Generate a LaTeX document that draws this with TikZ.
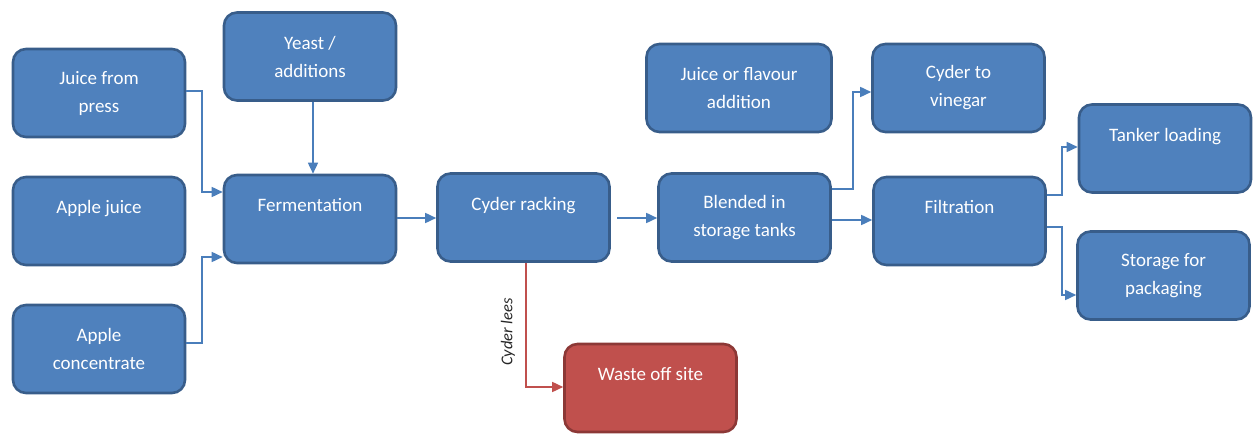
\documentclass[tikz,border=0pt]{standalone}
\usepackage{fontspec}
\setmainfont{Carlito}
\usetikzlibrary{arrows.meta}
\definecolor{boxfill}{HTML}{4F81BD}
\definecolor{boxline}{HTML}{385D8A}
\definecolor{wastefill}{HTML}{C0504D}
\definecolor{wasteline}{HTML}{8C3836}
\definecolor{flowline}{HTML}{4A7EBB}
\tikzset{
  stage/.style={draw=boxline, fill=boxfill, line width=2.6pt, rounded corners=13pt,
    text=white, align=center, font=\fontsize{19}{28}\selectfont,
    minimum width=172pt, minimum height=88pt, inner sep=0pt},
  wastebox/.style={stage, draw=wasteline, fill=wastefill},
  flow/.style={draw=flowline, line width=1.6pt, -{Triangle[length=11pt,width=10pt]}},
  wasteflow/.style={flow, draw=wastefill},
  flowlabel/.style={text=black!85, font=\fontsize{16.5}{18}\selectfont\itshape, rotate=90, inner sep=0pt}
}
\begin{document}
\begin{tikzpicture}[x=1pt,y=-1pt]
\useasboundingbox (0,0) rectangle (1259,435);

% input stages
\node[stage] (press) at (99,93) {Juice from\\press};
\node[stage] (applejuice) at (99,221) {Apple juice\\\mbox{}};
\node[stage] (conc) at (99,349) {Apple\\concentrate};
\node[stage] (yeast) at (310,56.5) {Yeast /\\additions};

% main line
\node[stage] (ferm) at (310,219) {Fermentation\\\mbox{}};
\node[stage] (rack) at (523.5,217.5) {Cyder racking\\\mbox{}};
\node[wastebox] (waste) at (650.5,388) {Waste off site\\\mbox{}};
\node[stage] (blend) at (744.5,217.5) {Blended in\\storage tanks};
\node[stage, minimum width=185pt] (flavour) at (739,88) {Juice or flavour\\addition};
\node[stage] (vinegar) at (958.5,88) {Cyder to\\vinegar};
\node[stage] (filt) at (959.5,221) {Filtration\\\mbox{}};
\node[stage] (tanker) at (1165,148.5) {Tanker loading\\\mbox{}};
\node[stage] (storage) at (1163.5,275.5) {Storage for\\packaging};

% connectors
\draw[flow] (press.east |- 0,91) -| (202,192) -- (ferm.west |- 0,192);
\draw[flow] (conc.east |- 0,343) -| (202,257) -- (ferm.west |- 0,257);
\draw[flow] (yeast.south -| 313,0) -- (ferm.north -| 313,0);
\draw[flow] (ferm.east |- 0,218) -- (rack.west |- 0,218);
\draw[flow] (617,218) -- (blend.west |- 0,218);
\draw[wasteflow] (rack.south -| 526,0) -- (526,387) -- (waste.west |- 0,387);
\node[flowlabel] (lees) at (508,332) {Cyder lees};
\draw[flow] (blend.east |- 0,189) -| (853,92) -- (vinegar.west |- 0,92);
\draw[flow] (blend.east |- 0,220) -- (filt.west |- 0,220);
\draw[flow] (filt.east |- 0,195) -| (1062,147) -- (tanker.west |- 0,147);
\draw[flow] (filt.east |- 0,227) -| (1062,295) -- (storage.west |- 0,295);
\end{tikzpicture}
\end{document}
